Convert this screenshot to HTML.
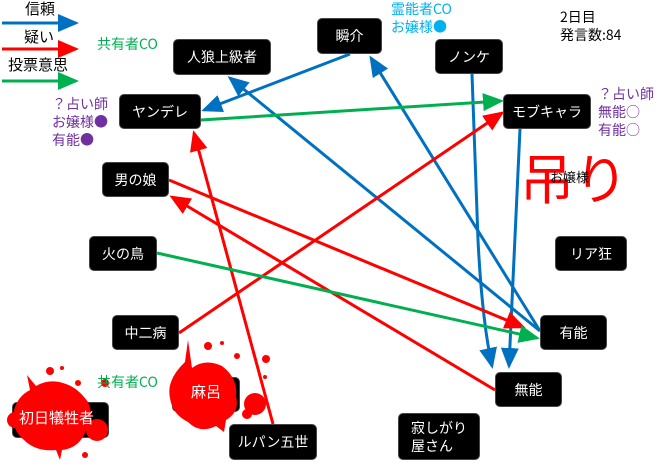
<!DOCTYPE html>
<html><head><meta charset="utf-8"><style>
body{margin:0;width:660px;height:463px;background:#fff;overflow:hidden;position:relative;font-family:"Liberation Sans","Noto Sans CJK JP",sans-serif}
.n{position:absolute;background:#000;color:#fff;border-radius:5px;display:flex;align-items:center;justify-content:center;font-size:14px;text-align:center;line-height:18px;border:1px solid #444;box-sizing:border-box}
.t{position:absolute;font-size:14px;line-height:18px;white-space:nowrap;font-family:"Noto Sans CJK JP",sans-serif}
svg{position:absolute;left:0;top:0}
</style></head><body>
<svg width="660" height="463" style="z-index:0">
<defs>
<marker id="b" markerWidth="7" markerHeight="6" refX="6" refY="3" orient="auto" markerUnits="strokeWidth"><path d="M0,0L7,3L0,6z" fill="#0070c0"/></marker>
<marker id="r" markerWidth="7" markerHeight="6" refX="6" refY="3" orient="auto" markerUnits="strokeWidth"><path d="M0,0L7,3L0,6z" fill="#ff0000"/></marker>
<marker id="g" markerWidth="7" markerHeight="6" refX="6" refY="3" orient="auto" markerUnits="strokeWidth"><path d="M0,0L7,3L0,6z" fill="#00b050"/></marker>
</defs>
<g stroke-width="3" fill="none">
<line x1="2" y1="23" x2="76" y2="23" stroke="#0070c0" marker-end="url(#b)"/>
<line x1="2" y1="49" x2="76" y2="49" stroke="#ff0000" marker-end="url(#r)"/>
<line x1="2" y1="81" x2="76" y2="81" stroke="#00b050" marker-end="url(#g)"/>
<line x1="540" y1="331" x2="230" y2="78" stroke="#0070c0" marker-end="url(#b)"/>
<line x1="350" y1="54" x2="204" y2="110" stroke="#0070c0" marker-end="url(#b)"/>
<line x1="540" y1="331" x2="371" y2="58" stroke="#0070c0" marker-end="url(#b)"/>
<path d="M472,74 L478,240 Q482,320 492,366" stroke="#0070c0" marker-end="url(#b)"/>
<line x1="520" y1="129" x2="509" y2="366" stroke="#0070c0" marker-end="url(#b)"/>
<line x1="179" y1="333" x2="502" y2="113" stroke="#ff0000" marker-end="url(#r)"/>
<line x1="495" y1="390" x2="172" y2="197" stroke="#ff0000" marker-end="url(#r)"/>
<line x1="169" y1="180" x2="523" y2="327" stroke="#ff0000" marker-end="url(#r)"/>
<line x1="273" y1="424" x2="194" y2="133" stroke="#ff0000" marker-end="url(#r)"/>
<line x1="201" y1="120" x2="501" y2="101" stroke="#00b050" marker-end="url(#g)"/>
<line x1="157" y1="253" x2="537" y2="338" stroke="#00b050" marker-end="url(#g)"/>
</g>
</svg>
<div class="t" style="left:25px;top:0px;font-size:15px">信頼</div>
<div class="t" style="left:24px;top:28px;font-size:15px">疑い</div>
<div class="t" style="left:8px;top:56px;font-size:15px">投票意思</div>
<div class="t" style="left:97px;top:35px;color:#00b050">共有者CO</div>
<div class="t" style="left:52px;top:95px;color:#7030a0">？占い師<br>お嬢様●<br>有能●</div>
<div class="t" style="left:391px;top:0px;color:#00b0f0">霊能者CO<br>お嬢様●</div>
<div class="t" style="left:560px;top:8px;color:#000">2日目<br>発言数:84</div>
<div class="t" style="left:598px;top:85px;color:#7030a0">？占い師<br>無能○<br>有能○</div>
<div class="t" style="left:520px;top:146px;color:#ff0000;font-size:54px;line-height:60px">吊り</div>
<div class="t" style="left:550px;top:168px;color:#000;font-size:13px">お嬢様</div>
<div class="n" style="left:173px;top:39px;width:98px;height:36px">人狼上級者</div>
<div class="n" style="left:317px;top:18px;width:65px;height:36px">瞬介</div>
<div class="n" style="left:435px;top:39px;width:68px;height:35px">ノンケ</div>
<div class="n" style="left:119px;top:94px;width:82px;height:35px">ヤンデレ</div>
<div class="n" style="left:503px;top:94px;width:88px;height:35px">モブキャラ</div>
<div class="n" style="left:102px;top:162px;width:67px;height:35px">男の娘</div>
<div class="n" style="left:89px;top:236px;width:68px;height:35px">火の鳥</div>
<div class="n" style="left:112px;top:315px;width:67px;height:35px">中二病</div>
<div class="n" style="left:555px;top:236px;width:72px;height:35px">リア狂</div>
<div class="n" style="left:540px;top:315px;width:67px;height:35px">有能</div>
<div class="n" style="left:495px;top:372px;width:67px;height:35px">無能</div>
<div class="n" style="left:398px;top:413px;width:82px;height:47px;justify-content:flex-start;padding-left:12px;text-align:left">寂しがり<br>屋さん</div>
<div class="n" style="left:229px;top:424px;width:88px;height:36px">ルパン五世</div>
<div class="n" style="left:172px;top:377px;width:68px;height:35px"></div>
<div class="n" style="left:12px;top:402px;width:97px;height:36px"></div>
<svg width="660" height="463" style="z-index:2">
<g fill="#ff0000">
<path d="M185,362 L188,340 L192,368 Q205,358 222,366 Q238,378 236,396 Q240,412 226,420 L224,432 L216,426 Q200,434 188,422 Q172,414 170,398 Q166,380 185,362z"/>
<circle cx="255" cy="404" r="11"/><circle cx="247" cy="414" r="5"/><circle cx="208" cy="346" r="4"/><circle cx="237" cy="356" r="3"/><circle cx="266" cy="359" r="4"/><circle cx="222" cy="343" r="2"/><circle cx="265" cy="377" r="2"/>
<path d="M30,390 L27,375 L36,386 Q50,378 66,384 Q78,388 88,402 Q95,418 86,430 Q80,448 62,450 L60,460 L56,450 Q36,452 24,440 Q10,428 14,410 Q18,396 30,390z"/>
<circle cx="97" cy="430" r="11"/><circle cx="50" cy="371" r="4"/><circle cx="78" cy="383" r="3"/><circle cx="62" cy="368" r="2"/><circle cx="105" cy="383" r="4"/><circle cx="85" cy="455" r="3"/><circle cx="15" cy="420" r="8"/>
</g>
</svg>
<div class="t" style="left:191px;top:383px;color:#fff;font-size:15px;z-index:3">麻呂</div>
<div class="t" style="left:19px;top:409px;color:#fff;font-size:15px;z-index:3">初日犠牲者</div>
<div class="t" style="left:97px;top:373px;color:#00b050;z-index:3">共有者CO</div>
</body></html>
